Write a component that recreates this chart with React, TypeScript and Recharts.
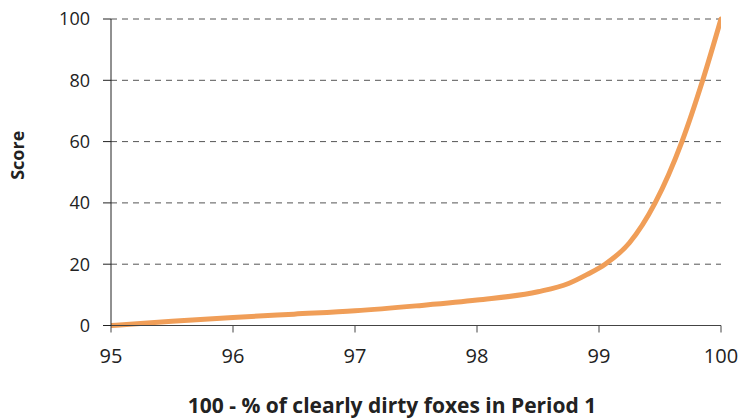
import React from 'react';
import { LineChart, Line, XAxis, YAxis, CartesianGrid, Label } from 'recharts';

const xValues = [95, 95.5, 96, 96.5, 97, 97.5, 98, 98.5, 98.75, 98.9, 99.05, 99.25, 99.46, 99.68, 99.85, 100];
const scores = [0, 1.4, 2.6, 3.7, 4.8, 6.4, 8.3, 11, 13.7, 16.6, 20, 27, 40, 60, 80, 100];
const xTicks = [95, 96, 97, 98, 99, 100];
const yTicks = [0, 20, 40, 60, 80, 100];
const xTitle = '100 - % of clearly dirty foxes in Period 1';
const yTitle = 'Score';

const data = xValues.map((x, i) => ({ x, score: scores[i] }));

const FONT = '"Open Sans", "Noto Sans", sans-serif';

export default function App() {
  return (
    <div style={{ position: 'absolute', left: 0, top: 0 }}>
      <LineChart
        width={739}
        height={419}
        data={data}
        margin={{ top: 19, right: 18, left: 51, bottom: 5.5 }}
      >
        <CartesianGrid
          vertical={false}
          stroke="#555"
          strokeDasharray="6 5"
          horizontalValues={[20, 40, 60, 80, 100]}
        />
        <XAxis
          dataKey="x"
          type="number"
          domain={[95, 100]}
          ticks={xTicks}
          height={88}
          stroke="#444"
          tickSize={7}
          tickMargin={16}
          tick={{ fill: '#222', fontSize: 20, fontFamily: FONT }}
          allowDataOverflow
        >
          <Label
            value={xTitle}
            position="insideBottom"
            offset={1}
            dx={-24}
            style={{ fill: '#222', fontSize: 21, fontWeight: 700, fontFamily: FONT }}
          />
        </XAxis>
        <YAxis
          type="number"
          domain={[0, 100]}
          ticks={yTicks}
          width={60}
          stroke="#222"
          tickSize={8}
          tickMargin={13}
          tick={{ fill: '#222', fontSize: 18, fontFamily: FONT }}
        >
          <Label
            value={yTitle}
            angle={-90}
            position="insideLeft"
            offset={-33}
            dy={-17}
            style={{ fill: '#222', fontSize: 18, fontWeight: 700, fontFamily: FONT, textAnchor: 'middle' }}
          />
        </YAxis>
        <Line
          type="monotone"
          dataKey="score"
          stroke="#F09E58"
          strokeWidth={5}
          strokeLinecap="round"
          dot={false}
          activeDot={false}
          isAnimationActive={false}
        />
      </LineChart>
    </div>
  );
}
